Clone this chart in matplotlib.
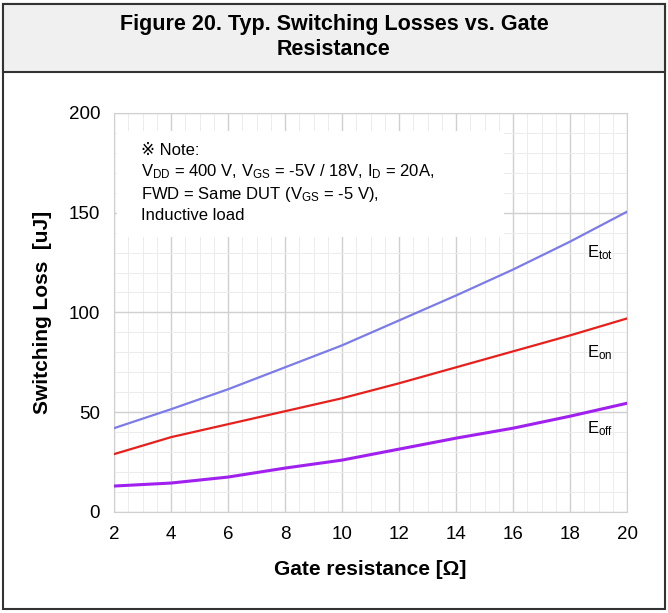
import matplotlib
matplotlib.use("Agg")
import matplotlib.pyplot as plt
from matplotlib.patches import Rectangle
from matplotlib.ticker import MultipleLocator

plt.rcParams["font.family"] = ["Liberation Sans", "DejaVu Sans"]
plt.rcParams["mathtext.fontset"] = "custom"
plt.rcParams["mathtext.rm"] = "Liberation Sans"
plt.rcParams["mathtext.it"] = "Liberation Sans:italic"

# data
gate_res = [2, 4, 6, 8, 10, 12, 14, 16, 18, 20]
e_tot = [42, 51.5, 61.5, 72.5, 83.5, 96, 108.5, 121.5, 135.5, 150.5]
e_on = [29, 37.5, 44, 50.5, 57, 64.5, 72.5, 80.5, 88.5, 97]
e_off = [13, 14.5, 17.5, 22, 26, 31.5, 37, 42, 48, 54.5]

fig = plt.figure(figsize=(6.68, 6.13), dpi=100)

# outer frame and title band
fig.patches.append(Rectangle((0.005, 0.006), 0.99, 0.988, transform=fig.transFigure,
                             fill=False, edgecolor="#333333", linewidth=1.5))
fig.patches.append(Rectangle((0.005, 0.882), 0.99, 0.112, transform=fig.transFigure,
                             facecolor="#f0f0f0", edgecolor="#333333", linewidth=1.5))
fig.text(0.5, 0.94, "Figure 20. Typ. Switching Losses vs. Gate\nResistance",
         ha="center", va="center", fontsize=15.5, fontweight="bold", linespacing=1.25)

ax = fig.add_axes([0.1707, 0.1648, 0.768, 0.651])
ax.plot(gate_res, e_tot, color="#7b7bea", lw=1.6, zorder=4)
ax.plot(gate_res, e_on, color="#e8201c", lw=1.6, zorder=4)
ax.plot(gate_res, e_off, color="#a020f0", lw=2.2, zorder=4)

ax.set_xlim(2, 20)
ax.set_ylim(0, 200)
ax.xaxis.set_major_locator(MultipleLocator(2))
ax.xaxis.set_minor_locator(MultipleLocator(0.5))
ax.yaxis.set_major_locator(MultipleLocator(50))
ax.yaxis.set_minor_locator(MultipleLocator(10))
ax.grid(which="major", color="#d0d0d0", lw=1.0)
ax.grid(which="minor", color="#ececec", lw=0.7)
ax.set_axisbelow(True)
for s in ax.spines.values():
    s.set_color("#d0d0d0")
ax.tick_params(which="both", length=0, labelsize=13.5, pad=10)

ax.set_xlabel("Gate resistance [Ω]", fontsize=15, fontweight="bold", labelpad=12)
ax.set_ylabel("Switching Loss  [uJ]", fontsize=15, fontweight="bold", labelpad=12)

# note box
ax.add_patch(Rectangle((2.1, 138), 13.6, 53, facecolor="white", edgecolor="none", zorder=2))
note = ("※ Note:\n"
        "V$_{\\rm DD}$ = 400 V, V$_{\\rm GS}$ = -5V / 18V, I$_{\\rm D}$ = 20A,\n"
        "FWD = Same DUT (V$_{\\rm GS}$ = -5 V),\n"
        "Inductive load")
ax.text(2.95, 185, note, fontsize=12, va="top", ha="left", linespacing=1.3, zorder=3)

ax.text(18.6, 130, "E$_{\\rm tot}$", fontsize=12, va="center", zorder=3)
ax.text(18.6, 80, "E$_{\\rm on}$", fontsize=12, va="center", zorder=3)
ax.text(18.6, 42, "E$_{\\rm off}$", fontsize=12, va="center", zorder=3)

fig.savefig("out.png", dpi=100)
